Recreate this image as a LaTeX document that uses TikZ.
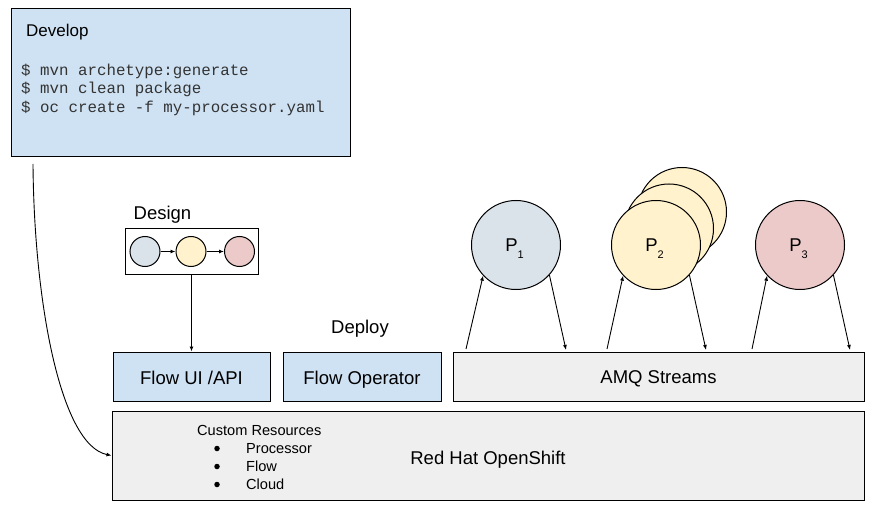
\documentclass[tikz,border=0pt]{standalone}
\usepackage{fontspec}
\setmainfont{Liberation Sans}
\setmonofont{Liberation Mono}
\usetikzlibrary{arrows.meta}
\definecolor{cblue}{HTML}{CFE2F3}
\definecolor{cgray}{HTML}{EFEFEF}
\definecolor{cyel}{HTML}{FFF2CC}
\definecolor{cpink}{HTML}{EDCACA}
\definecolor{cmix}{HTML}{DAE2EA}
\definecolor{ccode}{HTML}{333333}
\tikzset{
  box/.style={draw=black, line width=1pt, rectangle, inner sep=0pt},
  bigtxt/.style={anchor=base, inner sep=0pt, font=\fontsize{18.5}{22}\selectfont},
  smalltxt/.style={anchor=base west, inner sep=0pt, font=\fontsize{14.6}{17}\selectfont},
  codetxt/.style={anchor=base west, inner sep=0pt, text=ccode, font=\ttfamily\fontsize{15.8}{19}\selectfont},
  proc/.style={draw=black, line width=1pt, circle, minimum size=89pt, inner sep=0pt},
  mini/.style={draw=black, line width=1pt, circle, minimum size=30pt, inner sep=0pt},
  dot/.style={circle, fill=black, minimum size=5.5pt, inner sep=0pt},
  arr/.style={line width=0.9pt, -{Latex[length=5pt,width=4pt]}},
}
\newcommand{\psub}[1]{P\raisebox{-7pt}{\fontsize{11}{12}\selectfont #1}}
\begin{document}
\begin{tikzpicture}[x=1pt,y=-1pt]
\useasboundingbox (0,0) rectangle (880,521);
% Develop box
\node[box, fill=cblue, minimum width=339pt, minimum height=148pt] (dev) at (180.5,83) {};
\node[anchor=base west, inner sep=0pt, font=\fontsize{17}{20}\selectfont] (devlbl) at (26,37) {Develop};
\node[codetxt] (c1) at (21,75.5) {\$ mvn archetype:generate};
\node[codetxt] (c2) at (21,94) {\$ mvn clean package};
\node[codetxt] (c3) at (21,112.5) {\$ oc create -f my-processor.yaml};
% Design
\node[bigtxt] (designlbl) at (162.5,219.5) {Design};
\node[box, minimum width=133pt, minimum height=45pt] (design) at (191.5,251.5) {};
\node[mini, fill=cmix] (d1) at (145,251.5) {};
\node[mini, fill=cyel] (d2) at (191,251.5) {};
\node[mini, fill=cpink] (d3) at (239.5,251.5) {};
\draw[arr] (d1) -- (d2);
\draw[arr] (d2) -- (d3);
% Deploy
\node[bigtxt] (deploylbl) at (360,333) {Deploy};
% Bottom boxes
\node[box, fill=cblue, minimum width=157pt, minimum height=49pt] (flowui) at (191.5,376.5) {};
\node[bigtxt] (flowuilbl) at (191.5,384) {Flow UI /API};
\node[box, fill=cblue, minimum width=158pt, minimum height=49pt] (flowop) at (362,376.5) {};
\node[bigtxt] (flowoplbl) at (362,384) {Flow Operator};
\node[box, fill=cgray, minimum width=411pt, minimum height=49pt] (amq) at (658.5,376.5) {};
\node[bigtxt] (amqlbl) at (658.5,383.5) {AMQ Streams};
\node[box, fill=cgray, minimum width=752pt, minimum height=89pt] (ocp) at (488,455.5) {};
\node[bigtxt] (ocplbl) at (488,464) {Red Hat OpenShift};
\node[smalltxt] (cr) at (197,435) {Custom Resources};
\node[dot] (b1) at (217,448.5) {};
\node[dot] (b2) at (217,466.5) {};
\node[dot] (b3) at (217,484.5) {};
\node[smalltxt] (i1) at (246,453) {Processor};
\node[smalltxt] (i2) at (246,471) {Flow};
\node[smalltxt] (i3) at (246,489) {Cloud};
% design -> flow ui
\draw[arr] (design.south) -- (flowui.north);
% develop -> openshift curve
\coordinate (devout) at (33,164);
\draw[arr] (devout) .. controls (34,300) and (60,445) .. (ocp.west);
% Processors
\node[proc, fill=cyel] (p2c) at (682,212) {};
\node[proc, fill=cyel] (p2b) at (669,228.5) {};
\node[proc, fill=cyel] (p2) at (656,245) {};
\node[proc, fill=cmix] (p1) at (516,245) {};
\node[proc, fill=cpink] (p3) at (800,245) {};
\node[bigtxt] (p1lbl) at (514.5,251.7) {\psub{1}};
\node[bigtxt] (p2lbl) at (654.5,251.7) {\psub{2}};
\node[bigtxt] (p3lbl) at (798.5,251.7) {\psub{3}};
% arrows AMQ <-> processors
\coordinate (a1) at (466,349);
\coordinate (e1) at (566,350);
\coordinate (a2) at (607,349);
\coordinate (e2) at (706,350);
\coordinate (a3) at (752,349);
\coordinate (e3) at (850,350);
\draw[arr] (a1) -- (p1.223);
\draw[arr] (p1.318) -- (e1);
\draw[arr] (a2) -- (p2.223);
\draw[arr] (p2.318) -- (e2);
\draw[arr] (a3) -- (p3.223);
\draw[arr] (p3.318) -- (e3);
\end{tikzpicture}
\end{document}
